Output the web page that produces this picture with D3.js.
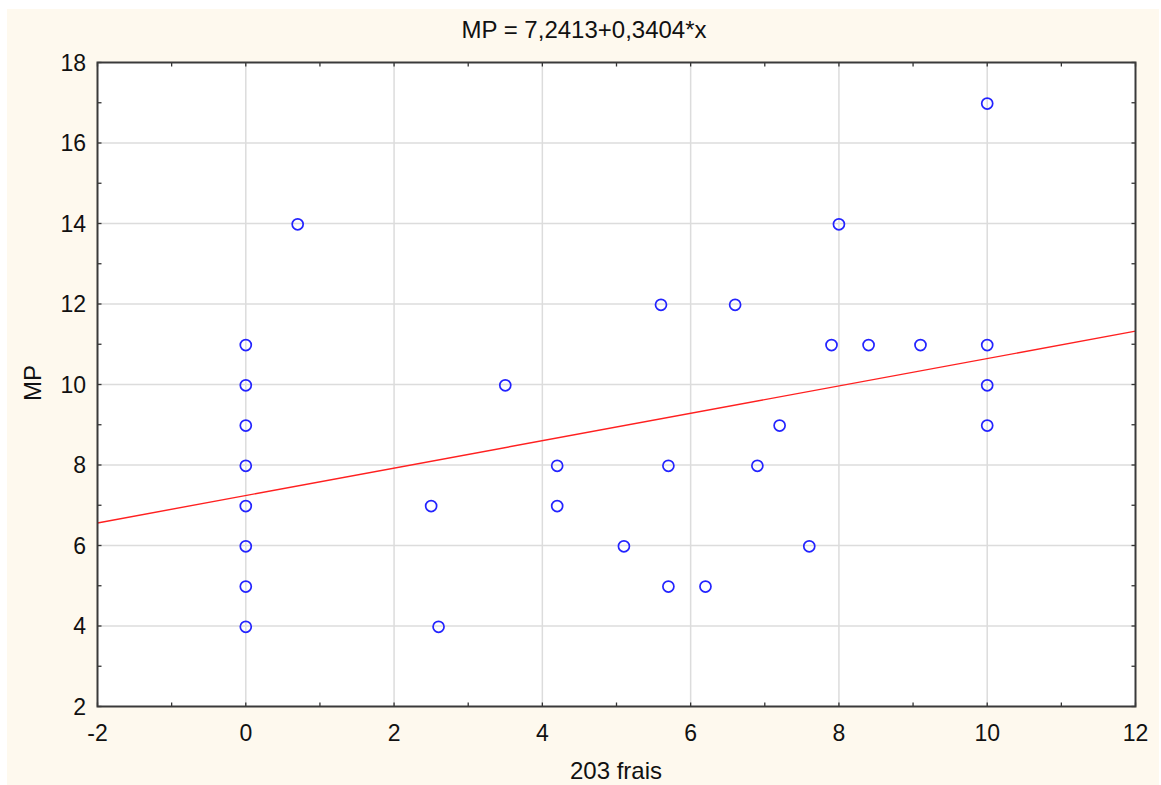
<!DOCTYPE html>
<html><head><meta charset="utf-8">
<script src="https://cdn.jsdelivr.net/npm/d3@7"></script>
<style>html,body{margin:0;padding:0;background:#fff;}svg{display:block;}</style>
</head><body>
<svg id="chart" width="1161" height="785"></svg>
<script>
const xValues = [0,0,0,0,0,0,0,0,0.7,3.5,2.5,2.6,4.2,4.2,5.1,5.6,5.7,5.7,6.2,6.6,6.9,7.2,7.6,7.9,8.0,8.4,9.1,10,10,10,10];
const yValues = [11,10,9,8,7,6,5,4,14,10,7,4,8,7,6,12,8,5,5,12,8,9,6,11,14,11,11,17,11,10,9];
const xTicks = [-2,0,2,4,6,8,10,12];
const yTicks = [2,4,6,8,10,12,14,16,18];
const xMinor = [-2,-1,0,1,2,3,4,5,6,7,8,9,10,11,12];
const yMinor = [2,3,4,5,6,7,8,9,10,11,12,13,14,15,16,17,18];
const intercept = 7.2413, slope = 0.3404;
const titleText = "MP = 7,2413+0,3404*x";
const xLabel = "203 frais", yLabel = "MP";

const svg = d3.select("#chart");
const font = "'Liberation Sans', Arial, sans-serif";
svg.append("rect").attr("x",7).attr("y",9).attr("width",1152).attr("height",776).attr("fill","#fef9ee");

const L=97.5,R=1135.5,T=62.5,B=706.5;
const x = d3.scaleLinear().domain([-2,12]).range([L,R]);
const y = d3.scaleLinear().domain([2,18]).range([B,T]);

svg.append("rect").attr("x",L).attr("y",T).attr("width",R-L).attr("height",B-T).attr("fill","#fff");

// gridlines
const g = svg.append("g");
g.selectAll(".vx").data(xTicks.slice(1,-1)).join("line")
 .attr("x1",d=>x(d)).attr("x2",d=>x(d)).attr("y1",T).attr("y2",B)
 .attr("stroke","#dcdcdc").attr("stroke-width",1.5);
g.selectAll(".hy").data(yTicks.slice(1,-1)).join("line")
 .attr("y1",d=>y(d)).attr("y2",d=>y(d)).attr("x1",L).attr("x2",R)
 .attr("stroke","#dcdcdc").attr("stroke-width",1.5);

// regression line
svg.append("clipPath").attr("id","clip").append("rect").attr("x",L).attr("y",T).attr("width",R-L).attr("height",B-T);
const lineDom = x.domain();
svg.append("line").attr("clip-path","url(#clip)")
 .attr("x1",x(lineDom[0])).attr("y1",y(intercept+slope*lineDom[0]))
 .attr("x2",x(lineDom[1])).attr("y2",y(intercept+slope*lineDom[1]))
 .attr("stroke","#ff2020").attr("stroke-width",1.4);

// points
svg.append("g").selectAll("circle").data(xValues.map((v,i)=>[v,yValues[i]])).join("circle")
 .attr("cx",d=>x(d[0])).attr("cy",d=>y(d[1])+0.8).attr("r",5.5)
 .attr("fill","none").attr("stroke","#2323ff").attr("stroke-width",1.7);

// axes with inward ticks
const tickLen = 4;
const axG = svg.append("g").attr("stroke","#333").attr("stroke-width",1.3);
axG.selectAll(".tb").data(xMinor).join("line").attr("x1",d=>x(d)).attr("x2",d=>x(d)).attr("y1",B).attr("y2",B-tickLen);
axG.selectAll(".tt").data(xMinor).join("line").attr("x1",d=>x(d)).attr("x2",d=>x(d)).attr("y1",T).attr("y2",T+tickLen);
axG.selectAll(".tl").data(yMinor).join("line").attr("y1",d=>y(d)).attr("y2",d=>y(d)).attr("x1",L).attr("x2",L+tickLen);
axG.selectAll(".tr").data(yMinor).join("line").attr("y1",d=>y(d)).attr("y2",d=>y(d)).attr("x1",R).attr("x2",R-tickLen);
svg.append("rect").attr("x",L).attr("y",T).attr("width",R-L).attr("height",B-T)
 .attr("fill","none").attr("stroke","#3a3a3a").attr("stroke-width",2);

// tick labels
svg.append("g").selectAll("text").data(xTicks).join("text")
 .attr("x",d=>x(d)).attr("y",740.5).attr("text-anchor","middle")
 .attr("font-family",font).attr("font-size",23).attr("fill","#111")
 .text(d=>d);
svg.append("g").selectAll("text").data(yTicks).join("text")
 .attr("x",86).attr("y",d=>y(d)+8.3).attr("text-anchor","end")
 .attr("font-family",font).attr("font-size",23).attr("fill","#111")
 .text(d=>d);

// title & labels
svg.append("text").attr("x",584).attr("y",37.5).attr("text-anchor","middle")
 .attr("font-family",font).attr("font-size",24).attr("fill","#111").text(titleText);
svg.append("text").attr("x",616).attr("y",779).attr("text-anchor","middle")
 .attr("font-family",font).attr("font-size",24).attr("fill","#111").text(xLabel);
svg.append("text").attr("transform","translate(40.5,383) rotate(-90)").attr("text-anchor","middle")
 .attr("font-family",font).attr("font-size",24).attr("fill","#111").text(yLabel);
</script>
</body></html>
